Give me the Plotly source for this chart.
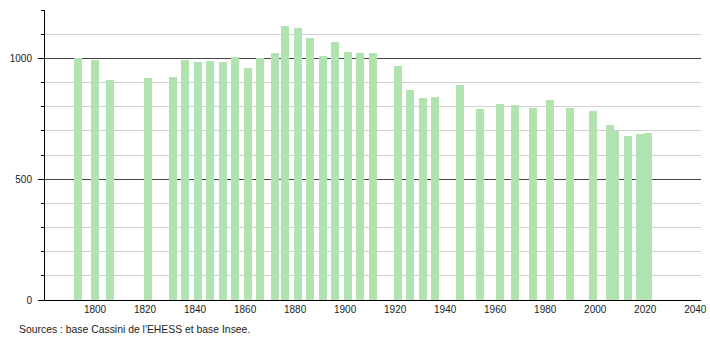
import plotly.graph_objects as go

years = [1793, 1800, 1806, 1821, 1831, 1836, 1841, 1846, 1851, 1856,
         1861, 1866, 1872, 1876, 1881, 1886, 1891, 1896, 1901, 1906,
         1911, 1921, 1926, 1931, 1936, 1946, 1954, 1962, 1968, 1975,
         1982, 1990, 1999, 2006, 2008, 2013, 2018, 2021]
population = [1000, 993, 910, 917, 922, 993, 985, 991, 985, 1005,
              960, 1000, 1022, 1134, 1126, 1083, 1010, 1068, 1028, 1023,
              1023, 967, 867, 835, 839, 889, 789, 810, 806, 794,
              827, 794, 782, 723, 700, 678, 685, 690]

x_ticks = list(range(1800, 2041, 20))
source_text = "Sources : base Cassini de l'EHESS et base Insee."

bar_color = "rgb(177,227,177)"
font_family = "Liberation Sans, Arial, sans-serif"

fig = go.Figure()
fig.add_trace(go.Bar(
    x=years, y=population, width=3.2,
    marker=dict(color=bar_color, line=dict(width=0)),
    hoverinfo="x+y",
))

fig.update_layout(
    width=710, height=340,
    margin=dict(l=45, r=9, t=10, b=40),
    plot_bgcolor="white", paper_bgcolor="white",
    showlegend=False,
    font=dict(family=font_family, size=10, color="#222"),
    bargap=0,
)
fig.update_xaxes(
    range=[1780, 2042.3], automargin=False,
    tickmode="array", tickvals=x_ticks,
    ticktext=[str(v) for v in x_ticks],
    showgrid=False, zeroline=False,
    showline=True, linecolor="black", linewidth=1,
    ticks="", tickfont=dict(size=10, family=font_family, color="#222"),
)
fig.update_yaxes(
    range=[0, 1200], automargin=False,
    tickmode="linear", tick0=0, dtick=500,
    showgrid=True, gridcolor="#444", gridwidth=1,
    zeroline=False,
    showline=True, linecolor="black", linewidth=1,
    ticks="outside", ticklen=6, tickcolor="black", tickwidth=1,
    tickfont=dict(size=10, family=font_family, color="#222"),
    ticklabelstandoff=4,
    minor=dict(dtick=100, tick0=0, showgrid=True, gridcolor="#d0d0d0",
               gridwidth=1, ticks="outside", ticklen=3, tickcolor="black"),
)

fig.add_annotation(
    text=source_text, xref="paper", yref="paper",
    x=-0.042, y=-0.1, xanchor="left", yanchor="middle",
    showarrow=False, font=dict(size=10.4, family=font_family, color="#222"),
)

fig.write_html("out.html")
